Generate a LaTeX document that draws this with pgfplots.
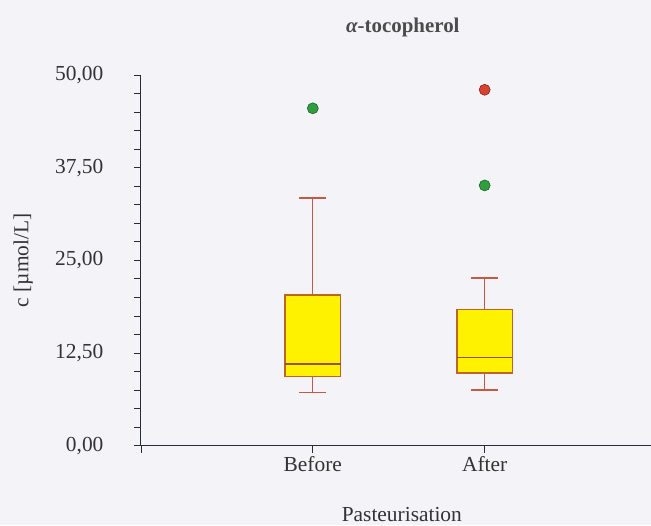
\documentclass[border=0pt]{standalone}
\usepackage{fontspec}
\setmainfont{Liberation Serif}
\usepackage{pgfplots}
\pgfplotsset{compat=1.18}
\usepgfplotslibrary{statistics}
\definecolor{bg}{RGB}{244,244,248}
\definecolor{edge}{RGB}{190,100,40}
\definecolor{whisk}{RGB}{195,90,65}
\definecolor{grn}{RGB}{46,158,62}
\definecolor{grnd}{RGB}{30,100,40}
\definecolor{rd}{RGB}{216,66,46}
\definecolor{rdd}{RGB}{130,40,30}
\definecolor{axc}{RGB}{40,45,60}
\begin{document}
\begin{tikzpicture}
\fill[bg] (-141bp,-79bp) rectangle (510bp,446bp);
\begin{axis}[
  at={(0,0)}, anchor=south west,
  scale only axis, width=510bp, height=371bp,
  xmin=0, xmax=2.965, ymin=0, ymax=50,
  clip=false,
  axis lines=left,
  axis line style={-, axc, line width=0.9bp},
  ytick={0,12.5,25,37.5,50},
  minor y tick num=4,
  yticklabel style={/pgf/number format/.cd, fixed, fixed zerofill, precision=2, use comma},
  /pgf/number format/assume math mode=true,
  xtick={0,1,2}, xticklabels={,Before,After},
  tick align=outside,
  major tick length=7bp, minor tick length=7bp,
  tick style={axc, line width=0.8bp},
  yticklabel shift=27bp,
  tick label style={font=\fontsize{21.5}{25}\selectfont, text=black!80},
  label style={font=\fontsize{21.5}{25}\selectfont, text=black!80},
  title={{\itshape α}-tocopherol},
  title style={font=\fontsize{21}{24}\selectfont\bfseries, text=black!70, at={(axis description cs:0.514,1)}, anchor=base, yshift=36bp},
  xlabel={Pasteurisation},
  xlabel style={at={(axis description cs:0.512,0)}, anchor=base, yshift=-76bp},
  ylabel={c [µmol/L]},
  ylabel style={at={(axis description cs:-0.231,0.5)}, anchor=center},
  boxplot/draw direction=y,
]
\addplot[draw=whisk, fill=yellow, line width=1.3bp, boxplot prepared={draw position=1,
    median=11.05, upper quartile=20.3, lower quartile=9.34,
    upper whisker=33.4, lower whisker=7.18,
    box extend=0.323, whisker extend=0.155},
    boxplot/every box/.append style={draw=edge, fill=yellow, line width=1.4bp},
    boxplot/every whisker/.append style={draw=whisk, line width=1.3bp},
    boxplot/every median/.append style={draw=edge!80!black, line width=1.6bp}]
  coordinates {};
\addplot[draw=whisk, fill=yellow, line width=1.3bp, boxplot prepared={draw position=2,
    median=11.9, upper quartile=18.33, lower quartile=9.8,
    upper whisker=22.6, lower whisker=7.5,
    box extend=0.323, whisker extend=0.155},
    boxplot/every box/.append style={draw=edge, fill=yellow, line width=1.4bp},
    boxplot/every whisker/.append style={draw=whisk, line width=1.3bp},
    boxplot/every median/.append style={draw=edge!80!black, line width=1.6bp}]
  coordinates {};
\addplot[only marks, mark=*, mark size=5.5bp, mark options={fill=grn, draw=grnd, line width=0.6bp}]
  coordinates {(1,45.5) (2,35.1)};
\addplot[only marks, mark=*, mark size=5.5bp, mark options={fill=rd, draw=rdd, line width=0.6bp}]
  coordinates {(2,48.0)};
\end{axis}
\end{tikzpicture}
\end{document}
